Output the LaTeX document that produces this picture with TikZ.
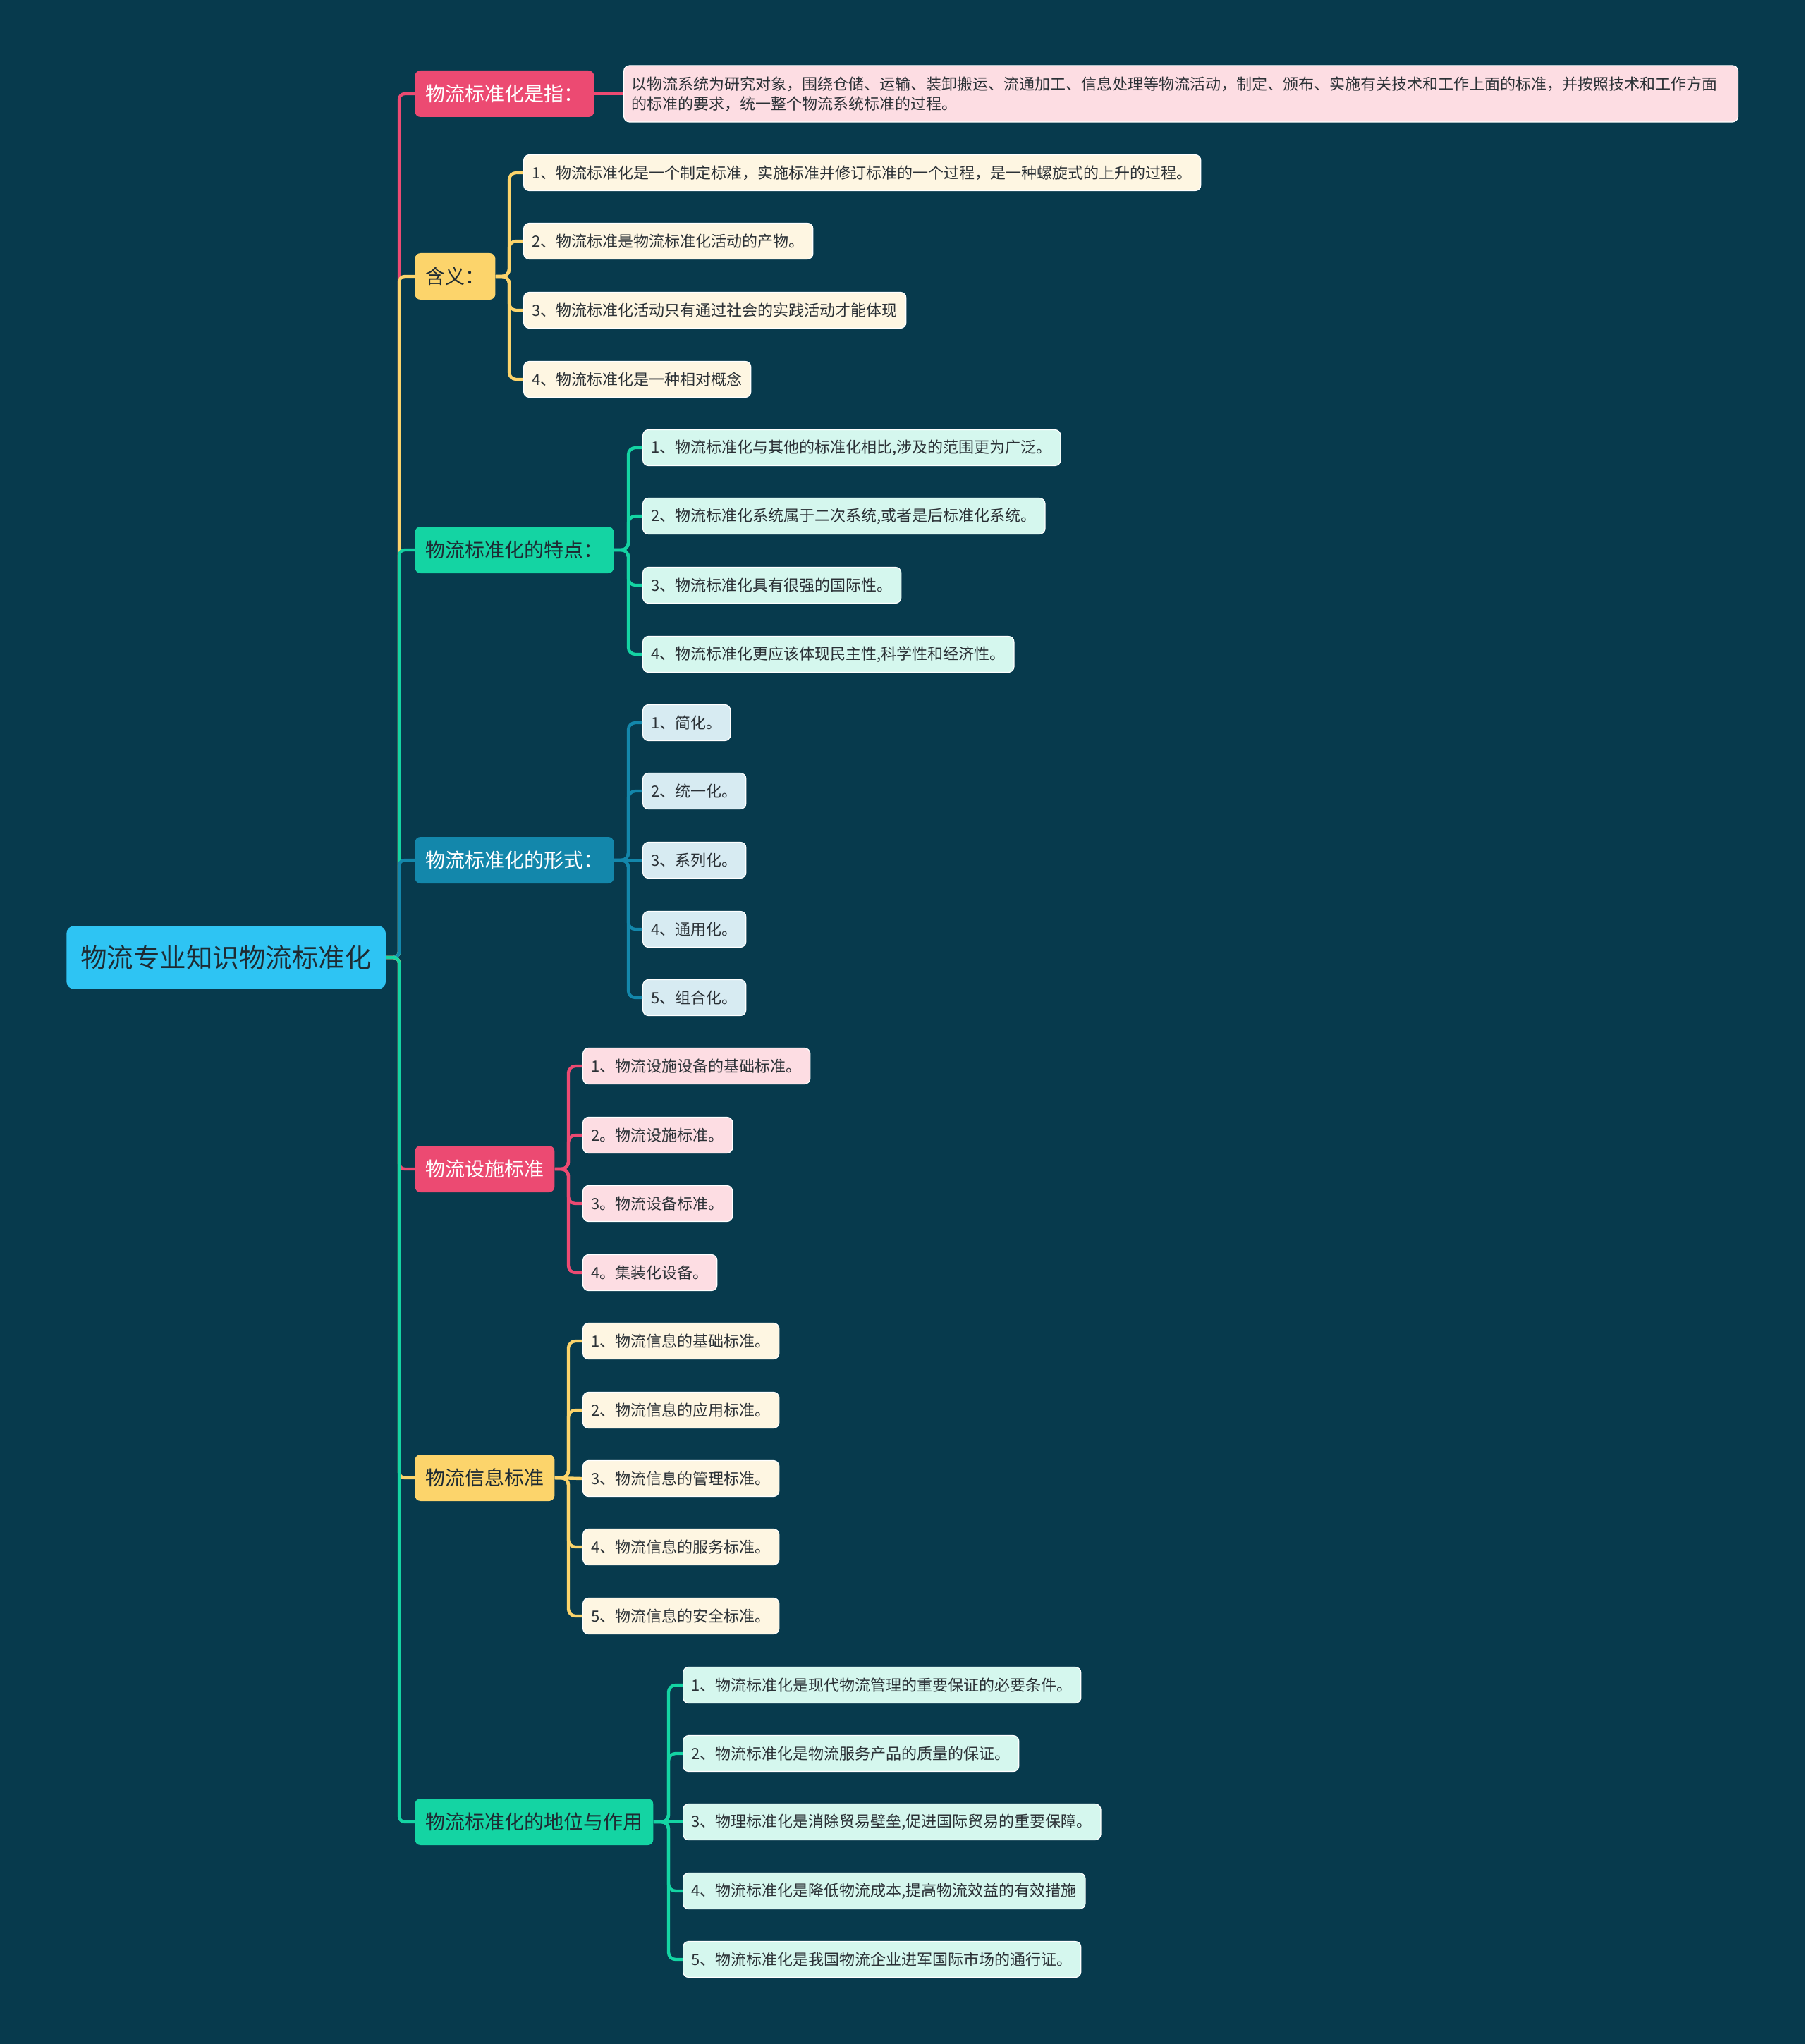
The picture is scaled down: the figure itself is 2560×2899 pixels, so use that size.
\documentclass[tikz,border=0pt]{standalone}
\usepackage{fontspec}
\setmainfont{Noto Sans CJK SC}
\usepackage{xcolor}
\usepackage{tikz}
\usetikzlibrary{positioning,calc}

\definecolor{bgc}{HTML}{073A4D}
\definecolor{rootc}{HTML}{2EC4F3}
\definecolor{redc}{HTML}{EC4A72}
\definecolor{yelc}{HTML}{FCD46B}
\definecolor{grnc}{HTML}{14D4A3}
\definecolor{bluc}{HTML}{1387AB}
\definecolor{pinkl}{HTML}{FDDDE3}
\definecolor{creaml}{HTML}{FEF6E2}
\definecolor{mintl}{HTML}{D5F7EE}
\definecolor{bluel}{HTML}{D7EBF2}
\definecolor{txtc}{HTML}{2B3136}
\definecolor{darkc}{HTML}{1E2B33}

\begin{document}
\begin{tikzpicture}[x=0.5pt, y=-0.5pt,
    leaf/.style={rounded corners=4pt, draw=white, line width=0.6pt, anchor=west,
      minimum height=25.5pt, inner xsep=6pt, inner ysep=0pt, text=txtc,
      font=\fontsize{11}{14}\selectfont},
    topic/.style={rounded corners=4pt, anchor=west, minimum height=33pt,
      inner xsep=7.5pt, inner ysep=0pt, font=\fontsize{14}{17}\selectfont},
    branch/.style={line width=2.2pt, rounded corners=5pt},
    trunk/.style={line width=2.2pt, rounded corners=4pt}]

    % Background
    \fill[bgc] (0,0) rectangle (2560,2899);
    \useasboundingbox (0,0) rectangle (2560,2899);

    % Root
    \node[anchor=west, fill=rootc, rounded corners=5pt, minimum height=44.5pt, inner xsep=10pt,
      text=darkc, font=\fontsize{18.75}{22}\selectfont] (root) at (94,1358) {物流专业知识物流标准化};

    % Main topics
    \node[topic, fill=redc, text=white] (shizhi) at (588,133) {物流标准化是指：};
    \node[topic, fill=yelc, text=darkc] (hanyi) at (588,392) {含义：};
    \node[topic, fill=grnc, text=darkc] (tedian) at (588,780) {物流标准化的特点：};
    \node[topic, fill=bluc, text=white] (xingshi) at (588,1220) {物流标准化的形式：};
    \node[topic, fill=redc, text=white] (sheshi) at (588,1658) {物流设施标准};
    \node[topic, fill=yelc, text=darkc] (xinxi) at (588,2096) {物流信息标准};
    \node[topic, fill=grnc, text=darkc] (diwei) at (588,2584) {物流标准化的地位与作用};

    % Definition
    \node[leaf, fill=pinkl, minimum height=40pt, inner xsep=5.5pt, text width=779pt, align=left] (sz1) at (884,133)
      {以物流系统为研究对象，围绕仓储、运输、装卸搬运、流通加工、信息处理等物流活动，制定、颁布、实施有关技术和工作上面的标准，并按照技术和工作方面\\的标准的要求，统一整个物流系统标准的过程。};

    % Meaning
    \node[leaf, fill=creaml] (hy1) at (742,245) {1、物流标准化是一个制定标准，实施标准并修订标准的一个过程，是一种螺旋式的上升的过程。};
    \node[leaf, fill=creaml] (hy2) at (742,342) {2、物流标准是物流标准化活动的产物。};
    \node[leaf, fill=creaml] (hy3) at (742,440) {3、物流标准化活动只有通过社会的实践活动才能体现};
    \node[leaf, fill=creaml] (hy4) at (742,538) {4、物流标准化是一种相对概念};

    % Features
    \node[leaf, fill=mintl] (td1) at (911,635) {1、物流标准化与其他的标准化相比,涉及的范围更为广泛。};
    \node[leaf, fill=mintl] (td2) at (911,732) {2、物流标准化系统属于二次系统,或者是后标准化系统。};
    \node[leaf, fill=mintl] (td3) at (911,830) {3、物流标准化具有很强的国际性。};
    \node[leaf, fill=mintl] (td4) at (911,928) {4、物流标准化更应该体现民主性,科学性和经济性。};

    % Forms
    \node[leaf, fill=bluel] (xs1) at (911,1025) {1、简化。};
    \node[leaf, fill=bluel] (xs2) at (911,1122) {2、统一化。};
    \node[leaf, fill=bluel] (xs3) at (911,1220) {3、系列化。};
    \node[leaf, fill=bluel] (xs4) at (911,1318) {4、通用化。};
    \node[leaf, fill=bluel] (xs5) at (911,1415) {5、组合化。};

    % Facility standards
    \node[leaf, fill=pinkl] (ss1) at (826,1512) {1、物流设施设备的基础标准。};
    \node[leaf, fill=pinkl] (ss2) at (826,1610) {2。物流设施标准。};
    \node[leaf, fill=pinkl] (ss3) at (826,1707) {3。物流设备标准。};
    \node[leaf, fill=pinkl] (ss4) at (826,1805) {4。集装化设备。};

    % Information standards
    \node[leaf, fill=creaml] (xx1) at (826,1902) {1、物流信息的基础标准。};
    \node[leaf, fill=creaml] (xx2) at (826,2000) {2、物流信息的应用标准。};
    \node[leaf, fill=creaml] (xx3) at (826,2097) {3、物流信息的管理标准。};
    \node[leaf, fill=creaml] (xx4) at (826,2194) {4、物流信息的服务标准。};
    \node[leaf, fill=creaml] (xx5) at (826,2292) {5、物流信息的安全标准。};

    % Role
    \node[leaf, fill=mintl] (dw1) at (968,2390) {1、物流标准化是现代物流管理的重要保证的必要条件。};
    \node[leaf, fill=mintl] (dw2) at (968,2487) {2、物流标准化是物流服务产品的质量的保证。};
    \node[leaf, fill=mintl] (dw3) at (968,2584) {3、物理标准化是消除贸易壁垒,促进国际贸易的重要保障。};
    \node[leaf, fill=mintl] (dw4) at (968,2682) {4、物流标准化是降低物流成本,提高物流效益的有效措施};
    \node[leaf, fill=mintl] (dw5) at (968,2779) {5、物流标准化是我国物流企业进军国际市场的通行证。};

    % Trunk from root to topics
    \draw[trunk, redc] (root.east) -| ([xshift=-11pt]shizhi.west) -- (shizhi.west);
    \draw[trunk, yelc] (root.east) -| ([xshift=-11pt]hanyi.west) -- (hanyi.west);
    \draw[trunk, grnc] (root.east) -| ([xshift=-11pt]tedian.west) -- (tedian.west);
    \draw[trunk, bluc] (root.east) -| ([xshift=-11pt]xingshi.west) -- (xingshi.west);
    \draw[trunk, redc] (root.east) -| ([xshift=-11pt]sheshi.west) -- (sheshi.west);
    \draw[trunk, yelc] (root.east) -| ([xshift=-11pt]xinxi.west) -- (xinxi.west);
    \draw[trunk, grnc] (root.east) -| ([xshift=-11pt]diwei.west) -- (diwei.west);

    % Branches to details
    \draw[branch, redc] (shizhi.east) -- (sz1.west);

    \draw[branch, yelc] (hanyi.east) -| ([xshift=-10pt]hy1.west) -- (hy1.west);
    \draw[branch, yelc] (hanyi.east) -| ([xshift=-10pt]hy2.west) -- (hy2.west);
    \draw[branch, yelc] (hanyi.east) -| ([xshift=-10pt]hy3.west) -- (hy3.west);
    \draw[branch, yelc] (hanyi.east) -| ([xshift=-10pt]hy4.west) -- (hy4.west);

    \draw[branch, grnc] (tedian.east) -| ([xshift=-10pt]td1.west) -- (td1.west);
    \draw[branch, grnc] (tedian.east) -| ([xshift=-10pt]td2.west) -- (td2.west);
    \draw[branch, grnc] (tedian.east) -| ([xshift=-10pt]td3.west) -- (td3.west);
    \draw[branch, grnc] (tedian.east) -| ([xshift=-10pt]td4.west) -- (td4.west);

    \draw[branch, bluc] (xingshi.east) -| ([xshift=-10pt]xs1.west) -- (xs1.west);
    \draw[branch, bluc] (xingshi.east) -| ([xshift=-10pt]xs2.west) -- (xs2.west);
    \draw[branch, bluc] (xingshi.east) -- (xs3.west);
    \draw[branch, bluc] (xingshi.east) -| ([xshift=-10pt]xs4.west) -- (xs4.west);
    \draw[branch, bluc] (xingshi.east) -| ([xshift=-10pt]xs5.west) -- (xs5.west);

    \draw[branch, redc] (sheshi.east) -| ([xshift=-10pt]ss1.west) -- (ss1.west);
    \draw[branch, redc] (sheshi.east) -| ([xshift=-10pt]ss2.west) -- (ss2.west);
    \draw[branch, redc] (sheshi.east) -| ([xshift=-10pt]ss3.west) -- (ss3.west);
    \draw[branch, redc] (sheshi.east) -| ([xshift=-10pt]ss4.west) -- (ss4.west);

    \draw[branch, yelc] (xinxi.east) -| ([xshift=-10pt]xx1.west) -- (xx1.west);
    \draw[branch, yelc] (xinxi.east) -| ([xshift=-10pt]xx2.west) -- (xx2.west);
    \draw[branch, yelc] (xinxi.east) -- (xx3.west);
    \draw[branch, yelc] (xinxi.east) -| ([xshift=-10pt]xx4.west) -- (xx4.west);
    \draw[branch, yelc] (xinxi.east) -| ([xshift=-10pt]xx5.west) -- (xx5.west);

    \draw[branch, grnc] (diwei.east) -| ([xshift=-10pt]dw1.west) -- (dw1.west);
    \draw[branch, grnc] (diwei.east) -| ([xshift=-10pt]dw2.west) -- (dw2.west);
    \draw[branch, grnc] (diwei.east) -- (dw3.west);
    \draw[branch, grnc] (diwei.east) -| ([xshift=-10pt]dw4.west) -- (dw4.west);
    \draw[branch, grnc] (diwei.east) -| ([xshift=-10pt]dw5.west) -- (dw5.west);
\end{tikzpicture}
\end{document}
